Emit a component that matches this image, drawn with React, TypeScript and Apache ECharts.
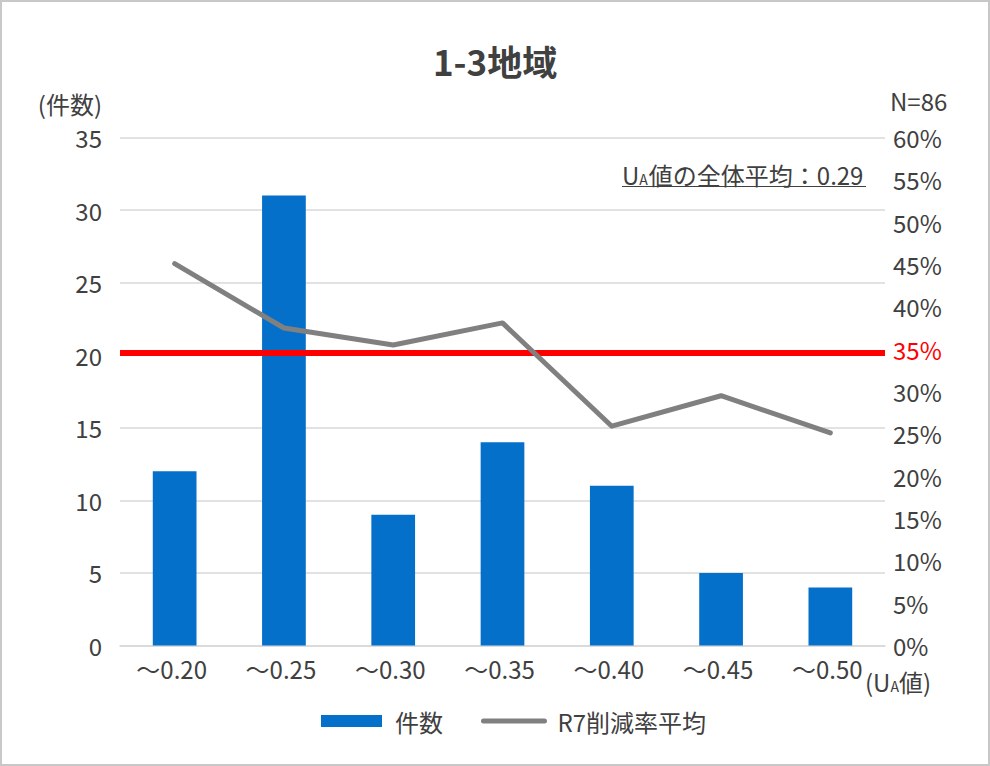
import React, { useEffect, useRef } from "react";
import * as echarts from "echarts";

const categories = ["～0.20", "～0.25", "～0.30", "～0.35", "～0.40", "～0.45", "～0.50"];
const counts = [12, 31, 9, 14, 11, 5, 4];
const reductionAvg = [45.1, 37.5, 35.5, 38.1, 25.9, 29.5, 25.1];
const targetRate = 34.6;
const title = "1-3地域";
const totalN = "N=86";
const overallAvg = "0.29";

const FONT = '"Noto Sans CJK JP", "Noto Sans", sans-serif';
const TXT = "#404040";
const FS = 24;

export default function App() {
  const ref = useRef<HTMLDivElement>(null);
  useEffect(() => {
    document.body.style.margin = "0";
    const chart = echarts.init(ref.current!, null, { renderer: "svg" });
    chart.setOption({
      animation: false,
      backgroundColor: "#ffffff",
      textStyle: { fontFamily: FONT },
      title: {
        text: title,
        left: "center",
        top: 38,
        textStyle: { fontFamily: FONT, fontSize: 35, fontWeight: "bold", color: TXT },
      },
      grid: { left: 120, right: 105, top: 137.5, bottom: 120.5, containLabel: false },
      legend: {
        left: 316,
        top: 704,
        itemWidth: 61,
        itemHeight: 12,
        itemGap: 38,
        textStyle: { fontFamily: FONT, fontSize: FS, color: TXT, padding: [0, 0, 0, 8] },
        data: [
          { name: "件数", icon: "rect" },
          {
            name: "R7削減率平均",
            lineStyle: { color: "#808080", width: 5 },
            itemStyle: { opacity: 0 },
          },
        ],
      },
      xAxis: {
        type: "category",
        data: categories,
        axisTick: { show: false },
        axisLine: { show: true, lineStyle: { color: "#d9d9d9", width: 1.5 } },
        axisLabel: { fontFamily: FONT, fontSize: FS, color: TXT, margin: 11, padding: [0, 6, 0, 0] },
      },
      yAxis: [
        {
          type: "value",
          min: 0,
          max: 35,
          interval: 5,
          axisLine: { show: false },
          axisTick: { show: false },
          axisLabel: { fontFamily: FONT, fontSize: FS, color: TXT, margin: 18 },
          splitLine: { lineStyle: { color: "#d9d9d9", width: 1.5 } },
        },
        {
          type: "value",
          min: 0,
          max: 60,
          interval: 5,
          position: "right",
          axisLine: { show: false },
          axisTick: { show: false },
          splitLine: { show: false },
          axisLabel: {
            fontFamily: FONT,
            fontSize: FS,
            color: TXT,
            margin: 8,
            formatter: (v: number) => (v === 35 ? "{r|35%}" : v + "%"),
            rich: { r: { color: "#ff0000", fontFamily: FONT, fontSize: FS } },
          },
        },
      ],
      series: [
        {
          name: "件数",
          type: "bar",
          data: counts,
          barWidth: "40%",
          itemStyle: { color: "#0570c9" },
          z: 2,
        },
        {
          name: "R7削減率平均",
          type: "line",
          yAxisIndex: 1,
          data: reductionAvg,
          symbol: "none",
          lineStyle: { color: "#808080", width: 5, cap: "round", join: "round" },
          itemStyle: { color: "#808080" },
          z: 4,
          markLine: {
            silent: true,
            symbol: "none",
            label: { show: false },
            lineStyle: { color: "#ff0000", width: 6, type: "solid" },
            data: [{ yAxis: targetRate }],
            z: 3,
          },
        },
      ],
      graphic: [
        {
          type: "rect",
          shape: { x: 1, y: 1, width: 988, height: 764 },
          style: { fill: "none", stroke: "#c8c8c8", lineWidth: 2 },
          silent: true,
          z: 100,
        },
        {
          type: "text",
          x: 102,
          y: 103,
          style: {
            text: "(件数)",
            font: `${FS}px ${FONT}`,
            fill: TXT,
            align: "right",
            verticalAlign: "middle",
          },
        },
        {
          type: "text",
          x: 890,
          y: 100,
          style: {
            text: totalN,
            font: `${FS}px ${FONT}`,
            fill: TXT,
            align: "left",
            verticalAlign: "middle",
          },
        },
        {
          type: "text",
          x: 622,
          y: 172,
          style: {
            text: "{u|U}{a|A}{t|値の全体平均：" + overallAvg + "}",
            fill: TXT,
            align: "left",
            verticalAlign: "middle",
            rich: {
              u: { fontFamily: FONT, fontSize: FS, fill: TXT, lineHeight: 28, verticalAlign: "bottom" },
              a: { fontFamily: FONT, fontSize: 14, fill: TXT, lineHeight: 28, verticalAlign: "bottom", padding: [0, 1, 0, 0] },
              t: { fontFamily: FONT, fontSize: FS, fill: TXT, lineHeight: 28, verticalAlign: "bottom" },
            },
          },
        },
        {
          type: "line",
          shape: { x1: 622, y1: 186.5, x2: 866, y2: 186.5 },
          style: { stroke: TXT, lineWidth: 1.2 },
        },
        {
          type: "text",
          x: 865,
          y: 679,
          style: {
            text: "{u|(U}{a|A}{u|値)}",
            fill: TXT,
            align: "left",
            verticalAlign: "middle",
            rich: {
              u: { fontFamily: FONT, fontSize: FS, fill: TXT, lineHeight: 28, verticalAlign: "bottom" },
              a: { fontFamily: FONT, fontSize: 14, fill: TXT, lineHeight: 28, verticalAlign: "bottom" },
            },
          },
        },
      ],
    });
    return () => chart.dispose();
  }, []);
  return <div ref={ref} style={{ width: 990, height: 766 }} />;
}
